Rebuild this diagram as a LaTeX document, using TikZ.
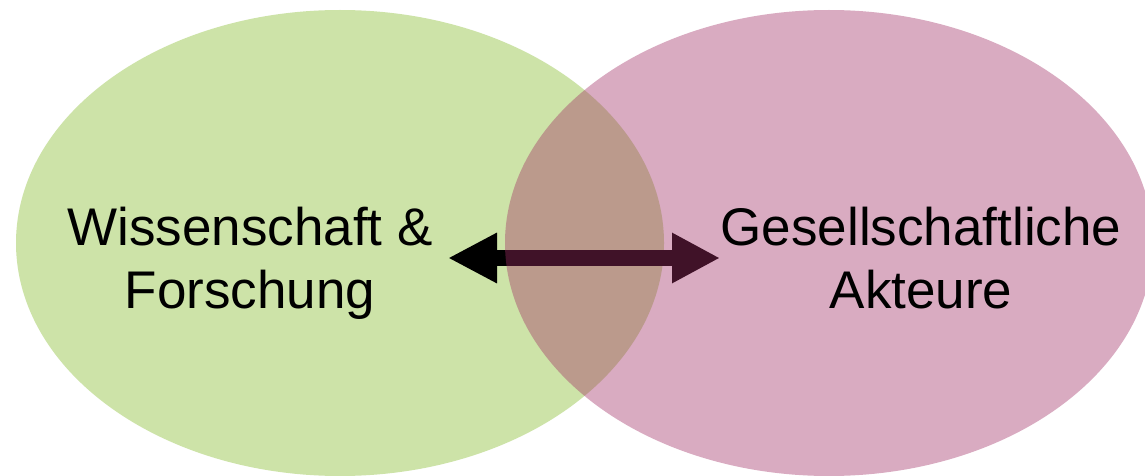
\documentclass[tikz,border=0pt]{standalone}
\usepackage{fontspec}
\setmainfont{Liberation Sans}
\usetikzlibrary{shapes.geometric,arrows.meta}
\definecolor{leafgreen}{RGB}{205,227,168}
\definecolor{berry}{RGB}{160,45,100}
\tikzset{
  circ/.style={ellipse, inner sep=0pt, minimum width=648pt, minimum height=466pt},
  lbl/.style={align=center, inner sep=0pt, anchor=north, font=\fontsize{53}{63}\selectfont},
  dblarrow/.style={line width=16pt, {Triangle[length=49pt,width=47pt]}-{Triangle[length=48pt,width=47pt]}}
}
\begin{document}
\begin{tikzpicture}[x=1pt,y=-1pt]
\useasboundingbox (0,0) rectangle (1145,476);
\fill[white] (0,0) rectangle (1145,476);
\begin{scope}
\clip (0,0) rectangle (1145,476);
\node[circ, fill=leafgreen] (wiss) at (340,243) {};
\coordinate (la) at (448,258);
\coordinate (ra) at (720,258);
\draw[dblarrow, black] (la) -- (ra);
\node[circ, fill=berry, fill opacity=0.4] (ges) at (829,243) {};
\end{scope}
\node[lbl] (t1) at (250,207) {Wissenschaft \&\\Forschung};
\node[lbl] (t2) at (921,207) {Gesellschaftliche\\Akteure};
\end{tikzpicture}
\end{document}
